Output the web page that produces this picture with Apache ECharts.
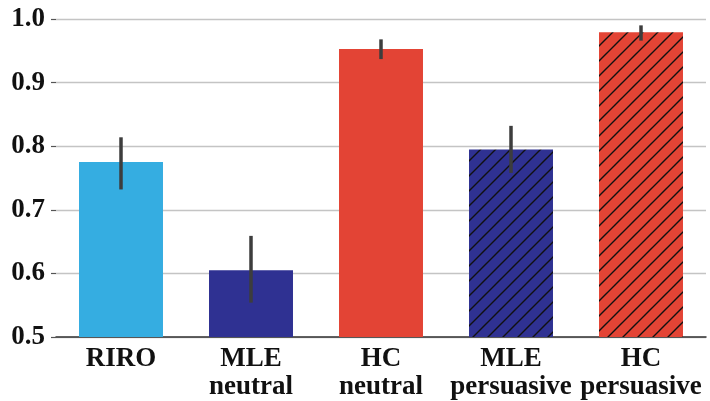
<!DOCTYPE html>
<html><head><meta charset="utf-8">
<script src="https://cdn.jsdelivr.net/npm/echarts@6/dist/echarts.min.js"></script>
<style>html,body{margin:0;padding:0;background:#fff}#c{width:710px;height:401px}</style>
</head><body><div id="c"></div>
<script>
const categories = ['RIRO', 'MLE\nneutral', 'HC\nneutral', 'MLE\npersuasive', 'HC\npersuasive'];
const values = [0.775, 0.605, 0.953, 0.795, 0.979];
const errLow = [0.732, 0.554, 0.937, 0.758, 0.966];
const errHigh = [0.814, 0.659, 0.968, 0.832, 0.990];
const yTicks = ['0.5', '0.6', '0.7', '0.8', '0.9', '1.0'];

const LIGHT = '#35ade1', NAVY = '#2f3192', RED = '#e34435';
function hatch(base) {
  const s = 15, c = document.createElement('canvas');
  c.width = s; c.height = s;
  const g = c.getContext('2d');
  g.fillStyle = base; g.fillRect(0, 0, s, s);
  g.strokeStyle = '#111'; g.lineWidth = 1.4;
  g.beginPath();
  g.moveTo(-2, s + 2); g.lineTo(s + 2, -2);
  g.moveTo(-2, 2); g.lineTo(2, -2);
  g.moveTo(s - 2, s + 2); g.lineTo(s + 2, s - 2);
  g.stroke();
  return { image: c, repeat: 'repeat' };
}
const colors = [LIGHT, NAVY, RED, hatch(NAVY), hatch(RED)];

const chart = echarts.init(document.getElementById('c'), null, { renderer: 'canvas' });
const font = 'Liberation Serif';
chart.setOption({
  animation: false,
  grid: { left: 56, right: 4, top: 19, bottom: 64, containLabel: false },
  xAxis: {
    type: 'category', data: categories,
    axisLine: { lineStyle: { color: '#333', width: 1.5 } },
    axisTick: { alignWithLabel: true, length: 5, lineStyle: { color: '#333', width: 1.5 } },
    axisLabel: { interval: 0, margin: 8, color: '#111', fontFamily: font, fontWeight: 'bold', fontSize: 27, lineHeight: 28 }
  },
  yAxis: {
    type: 'value', min: 0.5, max: 1.0, interval: 0.1,
    axisLine: { show: false },
    axisTick: { show: true, length: 5, lineStyle: { color: '#555', width: 1.2 } },
    splitLine: { lineStyle: { color: '#c4c4c4', width: 1.3 } },
    axisLabel: {
      margin: 11, color: '#111', fontFamily: font, fontWeight: 'bold', fontSize: 27,
      formatter: v => yTicks[Math.round((v - 0.5) * 10)]
    }
  },
  series: [
    {
      type: 'bar', barWidth: '64.6%',
      data: values.map((v, i) => ({ value: v, itemStyle: { color: colors[i] } })),
      z: 2
    },
    {
      type: 'custom', z: 5,
      data: values.map((v, i) => [i, errLow[i], errHigh[i]]),
      renderItem: (params, api) => {
        const a = api.coord([api.value(0), api.value(1)]);
        const b = api.coord([api.value(0), api.value(2)]);
        return { type: 'line', shape: { x1: a[0], y1: a[1], x2: b[0], y2: b[1] },
                 style: { stroke: '#3d3d3d', lineWidth: 3.5 } };
      }
    }
  ]
});
</script></body></html>
